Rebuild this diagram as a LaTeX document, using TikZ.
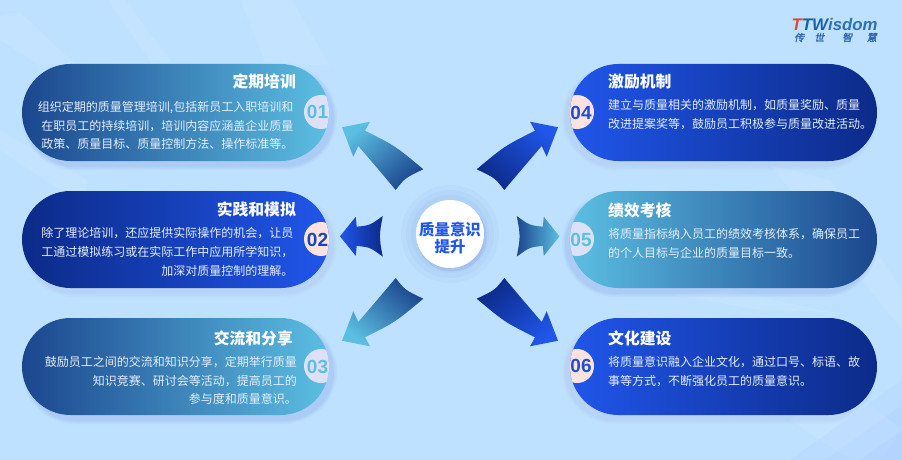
\documentclass[tikz,border=0pt]{standalone}
\usepackage{fontspec}
\setmainfont{Noto Sans CJK SC}
\newfontfamily\numfont{Liberation Sans}
\newfontfamily\logofont{Liberation Sans}
\newfontfamily\logocjk[FakeSlant=0.2,FakeBold=1.5]{Noto Sans CJK SC}
\definecolor{bgblue}{HTML}{BEE1FF}
\definecolor{tealL}{HTML}{5CBFE2}
\definecolor{tealD}{HTML}{1B468E}
\definecolor{royL}{HTML}{2056EA}
\definecolor{royD}{HTML}{0C2A88}
\definecolor{lav}{HTML}{DDE1F8}
\definecolor{pinkish}{HTML}{FDE2DF}
\definecolor{shadowc}{HTML}{7F96DC}
\definecolor{shadowp}{HTML}{A9B4E4}
\definecolor{bodytxt}{HTML}{E4EEFB}
\tikzset{
  pilltitle/.style={text=white,font=\fontsize{15.8}{18}\selectfont\bfseries,inner sep=0pt},
  pillbody/.style={text=bodytxt,font=\fontsize{12}{18.7}\selectfont,inner sep=0pt},
  pillnum/.style={font=\fontsize{19}{20}\selectfont\numfont\bfseries,inner sep=0pt},
  centertxt/.style={text=royL,font=\fontsize{15.4}{16.2}\selectfont\bfseries,align=center,inner sep=0pt},
  streak/.style={fill=white,fill opacity=.08,draw=none},
}
% x, y-top, leftcolor, rightcolor, circle cx, circle color, shadow dx, shadow color
\newcommand{\pillshape}[8]{%
  \foreach \e/\o in {4/.07,2.5/.09,1/.12}{
    \fill[#8,opacity=\o,rounded corners=48.5+\e]
      ({#1+#7-\e},{#2+5-\e}) rectangle ({#1+307+#7+\e},{#2+97+5+\e});}
  \shade[left color=#3,right color=#4,rounded corners=48.5]
      (#1,#2) rectangle ({#1+307},{#2+97});
  \begin{scope}
    \clip[rounded corners=48.5] (#1,#2) rectangle ({#1+307},{#2+97});
    \fill[#6] (#5,{#2+48}) circle (17);
  \end{scope}}
\newcommand{\diagarrow}{(-108,-106.7) -- (-80,-112.3) -- (-85,-103.3)
  .. controls (-54.5,-88) .. (-26.7,-64.7)
  .. controls (-45,-56) .. (-54.3,-44)
  .. controls (-72,-65) .. (-91.7,-88)
  -- (-96.7,-77.3) -- cycle}
\newcommand{\sidearrow}{(-110,0) -- (-94.3,-19.5) -- (-93.3,-9.6)
  .. controls (-80,-11) .. (-67.3,-20.3)
  .. controls (-71,0) .. (-67.3,20.3)
  .. controls (-80,11) .. (-93.3,9.6)
  -- (-94.3,19.5) -- cycle}
\begin{document}
\begin{tikzpicture}[x=1pt,y=-1pt]
\useasboundingbox (0,0) rectangle (902,460);
\fill[bgblue] (0,0) rectangle (902,460);
% background streaks
\fill[streak] (0,15) -- (20,12) -- (75,64) -- (40,66) -- (0,40) -- cycle;
\fill[streak] (108,0) -- (125,0) -- (172,62) -- (152,64) -- cycle;
\fill[streak] (240,0) -- (292,0) -- (330,66) -- (265,62) -- cycle;
\fill[streak] (0,130) -- (25,145) -- (88,180) -- (78,240) -- (60,190) -- (0,150) -- cycle;
\fill[streak] (770,165) -- (830,180) -- (902,290) -- (902,330) -- cycle;
\fill[streak] (675,295) -- (730,290) -- (830,312) -- (760,310) -- cycle;
\fill[streak] (790,420) -- (845,385) -- (902,430) -- (880,460) -- (850,460) -- cycle;
\fill[blue!35!bgblue,opacity=.05] (790,460) -- (902,380) -- (902,460) -- cycle;
\fill[blue!35!bgblue,opacity=.05] (825,460) -- (902,405) -- (902,460) -- cycle;
\fill[blue!35!bgblue,opacity=.05] (860,460) -- (902,430) -- (902,460) -- cycle;
% pills
\pillshape{22}{64}{tealD}{tealL}{321}{lav}{4}{shadowc}
\pillshape{22}{191}{royD}{royL}{321}{pinkish}{4}{shadowp}
\pillshape{22}{318}{tealD}{tealL}{321}{lav}{4}{shadowc}
\pillshape{570}{64}{royL}{royD}{577}{pinkish}{-4}{shadowp}
\pillshape{570}{191}{tealL}{tealD}{577}{lav}{-4}{shadowc}
\pillshape{570}{318}{royL}{royD}{577}{pinkish}{-4}{shadowp}
% numbers
\node[pillnum,text=tealL] (n1) at (317.5,112) {01};
\node[pillnum,text=royL!80!black] (n2) at (317.5,240) {02};
\node[pillnum,text=tealL] (n3) at (317.5,367) {03};
\node[pillnum,text=royL!90!black] (n4) at (581,113) {04};
\node[pillnum,text=tealL] (n5) at (581,240) {05};
\node[pillnum,text=royL!90!black] (n6) at (581,366) {06};
% titles
\node[pilltitle,anchor=east] (t1) at (296,81) {定期培训};
\node[pilltitle,anchor=east] (t2) at (296,209) {实践和模拟};
\node[pilltitle,anchor=east] (t3) at (293,338) {交流和分享};
\node[pilltitle,anchor=west] (t4) at (608,82) {激励机制};
\node[pilltitle,anchor=west] (t5) at (608,210) {绩效考核};
\node[pilltitle,anchor=west] (t6) at (608,338) {文化建设};
% bodies
\node[pillbody,align=right,anchor=east] (b1) at (293.5,125.5) {组织定期的质量管理培训,包括新员工入职培训和\\在职员工的持续培训，培训内容应涵盖企业质量\\政策、质量目标、质量控制方法、操作标准等。};
\node[pillbody,align=right,anchor=east] (b2) at (293.5,252) {除了理论培训，还应提供实际操作的机会，让员\\工通过模拟练习或在实际工作中应用所学知识，\\加深对质量控制的理解。};
\node[pillbody,align=right,anchor=east] (b3) at (297,380.5) {鼓励员工之间的交流和知识分享，定期举行质量\\知识竞赛、研讨会等活动，提高员工的\\参与度和质量意识。};
\node[pillbody,align=left,anchor=west] (b4) at (608,114.5) {建立与质量相关的激励机制，如质量奖励、质量\\改进提案奖等，鼓励员工积极参与质量改进活动。};
\node[pillbody,align=left,anchor=west] (b5) at (608,243.5) {将质量指标纳入员工的绩效考核体系，确保员工\\的个人目标与企业的质量目标一致。};
\node[pillbody,align=left,anchor=west] (b6) at (608,371.5) {将质量意识融入企业文化，通过口号、标语、故\\事等方式，不断强化员工的质量意识。};
% arrows
\begin{scope}[shift={(450,234)}]
  \shade[top color=tealL,bottom color=tealD,shading angle=40] \diagarrow;
  \begin{scope}[yscale=-1]
    \shade[top color=tealD,bottom color=tealL,shading angle=-40] \diagarrow;
  \end{scope}
  \begin{scope}[xscale=-1]
    \shade[top color=royL,bottom color=royD,shading angle=-40] \diagarrow;
  \end{scope}
  \begin{scope}[xscale=-1,yscale=-1]
    \shade[top color=royD,bottom color=royL,shading angle=40] \diagarrow;
  \end{scope}
\end{scope}
\begin{scope}[shift={(450,236.3)}]
  \shade[left color=royL,right color=royD] \sidearrow;
  \begin{scope}[xscale=-1,shift={(0.5,0)}]
    \shade[left color=tealD,right color=tealL] \sidearrow;
  \end{scope}
\end{scope}
% centre
\fill[shadowc,opacity=.07] (450,234) circle (49);
\fill[shadowc,opacity=.07] (450,234) circle (44);
\fill[shadowc,opacity=.07] (450,234) circle (39);
\fill[shadowc,opacity=.25] (451.5,236.5) circle (35);
\fill[white] (450,234) circle (34);
\node[centertxt] (c) at (450,238) {质量意识\\提升};
% logo
\node[inner sep=0pt,anchor=west,font=\fontsize{16.8}{20}\selectfont\logofont\bfseries\itshape] (logo) at (791.5,24)
  {\textcolor[HTML]{E2433C}{T}\textcolor[HTML]{1F5FA8}{TW}\textcolor[HTML]{2F70B4}{isdom}};
\node[inner sep=0pt,anchor=center,font=\fontsize{10}{10}\logocjk\selectfont,text={rgb,255:red,47;green,100;blue,170}] (logocn) at (835.5,37.5)
  {传\hspace{10pt}世\hspace{18pt}智\hspace{14.5pt}慧};
\end{tikzpicture}
\end{document}
